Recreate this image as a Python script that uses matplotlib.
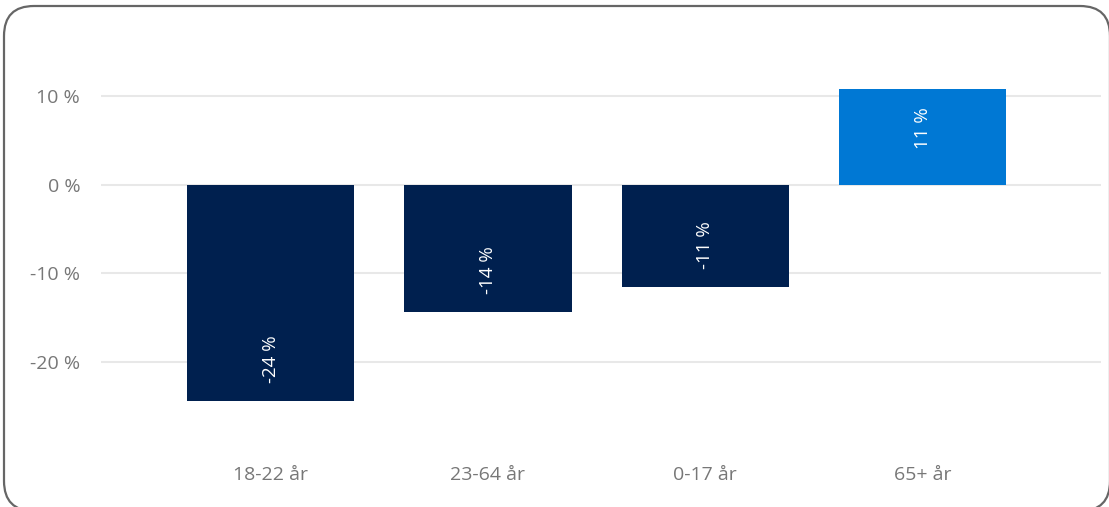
import matplotlib.pyplot as plt
from matplotlib.patches import FancyBboxPatch

plt.rcParams['font.family'] = ['Open Sans', 'DejaVu Sans']

categories = ["18-22 år", "23-64 år", "0-17 år", "65+ år"]
values = [-24.4, -14.3, -11.5, 10.8]
bar_labels = ["-24 %", "-14 %", "-11 %", "11 %"]
colors = ["#00204F", "#00204F", "#00204F", "#0078D4"]
yticks = [-20, -10, 0, 10]
ytick_labels = ["-20 %", "-10 %", "0 %", "10 %"]

fig = plt.figure(figsize=(11.09, 5.07), dpi=100)

# rounded frame around the whole card, drawn in pixel units
bg = fig.add_axes([0, 0, 1, 1])
bg.set_xlim(0, 1109)
bg.set_ylim(507, 0)
bg.axis("off")
bg.add_patch(FancyBboxPatch((4, 6), 1106, 505,
                            boxstyle="round,pad=0,rounding_size=30",
                            fc="white", ec="#666666", lw=1.6))

ax = fig.add_axes([0.0911, 0.1637, 0.9017, 0.716])
ax.set_facecolor("none")
x = range(len(categories))
bars = ax.bar(x, values, width=0.77, color=colors, zorder=3)

for b, v, lab in zip(bars, values, bar_labels):
    cx = b.get_x() + b.get_width() / 2
    off = 13 if v < 0 else -13
    ax.annotate(lab, (cx, v), xytext=(0, off), textcoords="offset points",
                rotation=90, ha="center", va="bottom" if v < 0 else "top",
                color="white", fontsize=13.5, fontweight="medium", zorder=4)

ax.set_xlim(-0.78, 3.82)
ax.set_ylim(-27, 14)
ax.set_yticks(yticks)
ax.set_yticklabels(ytick_labels)
ax.set_xticks(list(x))
ax.set_xticklabels(categories)
ax.grid(axis="y", color="#e8e8e8", lw=1.5, zorder=0)
ax.tick_params(axis="y", length=0, pad=15, labelsize=14, labelcolor="#777777")
ax.tick_params(axis="x", length=0, pad=30, labelsize=14, labelcolor="#777777")
for s in ax.spines.values():
    s.set_visible(False)

fig.savefig("out.png", dpi=100)
